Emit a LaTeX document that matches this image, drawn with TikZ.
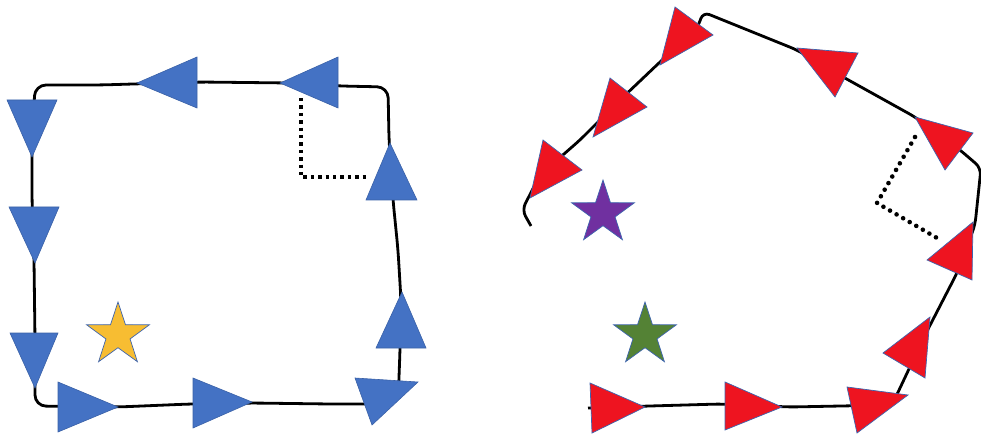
\documentclass[tikz,border=0pt]{standalone}
\definecolor{triblue}{HTML}{4472C4}
\definecolor{trired}{HTML}{EE1420}
\definecolor{edgeblue}{HTML}{3D64AE}
\definecolor{stargold}{HTML}{F7BD32}
\definecolor{starpurple}{HTML}{7030A0}
\definecolor{stargreen}{HTML}{548235}
\begin{document}
\begin{tikzpicture}[x=1pt,y=-1pt,
  loop/.style={draw=black,line width=2.8pt,rounded corners=11pt,line join=round},
  bluetri/.style={fill=triblue,draw=triblue!85!black,line width=0.6pt},
  redtri/.style={fill=trired,draw=edgeblue,line width=0.7pt},
  sqdots/.style={draw=black,line width=3.4pt,dash pattern=on 3.4pt off 4pt},
  rounddots/.style={draw=black,line width=4.6pt,line cap=round,dash pattern=on 0pt off 7.6pt},
  starstyle/.style={draw=edgeblue,line width=0.7pt},
  fivestar/.pic={\path[pic actions] (90:33pt) -- (126:12.7pt) -- (162:33pt) -- (198:12.7pt)
     -- (234:33pt) -- (270:12.7pt) -- (306:33pt) -- (342:12.7pt) -- (18:33pt) -- (54:12.7pt) -- cycle;}
]
\useasboundingbox (0,0) rectangle (981,435);

% ---------- left loop (closed) ----------
\path[loop] (35,85) -- (100,85) -- (200,82) -- (290,83) -- (340,86) -- (388,87)
  -- (389,140) -- (393,200) -- (398,250) -- (401,300) -- (400,350) -- (398,404)
  -- (330,404) -- (252,403) -- (190,404) -- (118,407) -- (35,406)
  -- (35,340) -- (34,260) -- (32,200) -- (32,150) -- cycle;

\path[sqdots] (301,98) -- (301,177) -- (368,177);

\path[bluetri] (137,83) -- (197,57) -- (197,108) -- cycle;
\path[bluetri] (280,83) -- (338,57) -- (338,108) -- cycle;
\path[bluetri] (7,100) -- (57,100) -- (32,157) -- cycle;
\path[bluetri] (9,207) -- (59,207) -- (35,263) -- cycle;
\path[bluetri] (10,333) -- (58,333) -- (35,388) -- cycle;
\path[bluetri] (58,382) -- (58,432) -- (118,407) -- cycle;
\path[bluetri] (193,378) -- (193,428) -- (252,402) -- cycle;
\path[bluetri] (355,378) -- (418,382) -- (372,425) -- cycle;
\path[bluetri] (376,348) -- (426,348) -- (402,292) -- cycle;
\path[bluetri] (366,200) -- (417,200) -- (390,143) -- cycle;

\pic[fill=stargold,starstyle] (goldstar) at (118,335) {fivestar};

% ---------- right loop (open) ----------
\path[loop,rounded corners=7pt] (588,408) -- (650,406) -- (720,404) -- (790,407) -- (892,405)
  -- (925,335) -- (957,273) -- (975,225) -- (981,168)
  -- (960,150) -- (915,117) -- (843,77) -- (797,50) -- (703,12)
  -- (698,27) -- (660,62) -- (620,100) -- (580,140) -- (540,175)
  -- (522,210) -- (531,226);

\path[rounddots] (915,137) -- (877,203) -- (937,238);

\path[redtri] (675,7) -- (713,35) -- (660,65) -- cycle;
\path[redtri] (610,78) -- (647,107) -- (593,137) -- cycle;
\path[redtri] (543,140) -- (582,170) -- (530,198) -- cycle;
\path[redtri] (858,53) -- (835,97) -- (797,48) -- cycle;
\path[redtri] (973,133) -- (945,170) -- (915,117) -- cycle;
\path[redtri] (972,280) -- (927,260) -- (973,222) -- cycle;
\path[redtri] (925,378) -- (883,353) -- (930,317) -- cycle;
\path[redtri] (847,387) -- (857,433) -- (908,395) -- cycle;
\path[redtri] (590,383) -- (592,433) -- (645,407) -- cycle;
\path[redtri] (725,382) -- (725,430) -- (782,407) -- cycle;

\pic[fill=starpurple,starstyle] (purplestar) at (603,213) {fivestar};
\pic[fill=stargreen,starstyle] (greenstar) at (645,335) {fivestar};
\end{tikzpicture}
\end{document}
